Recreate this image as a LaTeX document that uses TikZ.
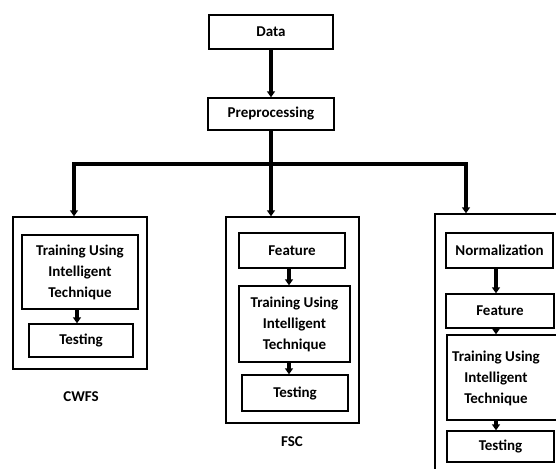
\documentclass[tikz,border=0pt]{standalone}
\usepackage{fontspec}
\setmainfont{Carlito}
\usetikzlibrary{arrows.meta}
\begin{document}
\begin{tikzpicture}[x=1pt,y=-1pt,
  box/.style={draw,line width=1.4pt,inner sep=0pt,align=center,
    font=\fontsize{15}{21}\selectfont\bfseries},
  txt/.style={inner sep=0pt,align=center,font=\fontsize{15}{21}\selectfont\bfseries},
  arr/.style={line width=3.2pt,-{Triangle[width=8pt,length=6pt]}},
  ln/.style={line width=3.2pt}]
\useasboundingbox (0,0) rectangle (556,468);
\clip (0,0) rectangle (556,468);
% top
\node[box,minimum width=124pt,minimum height=34pt] (data) at (271,32) {Data};
\node[box,minimum width=126pt,minimum height=32pt] (pre) at (271,114) {Preprocessing};
\draw[arr] (data.south) -- (pre.north);
% outer boxes
\node[box,minimum width=134pt,minimum height=152pt] (out1) at (80,293) {};
\node[box,minimum width=133pt,minimum height=206pt] (out2) at (292.5,320) {};
\node[box,minimum width=185pt,minimum height=306pt] (out3) at (527.5,367) {};
% branching
\coordinate (j) at (271,164);
\coordinate (L) at (74,164);
\coordinate (R) at (466,164);
\draw[ln] (pre.south) -- (j);
\draw[arr] (j) -- (L) -- (out1.north -| L);
\draw[arr] (j) -- (j |- out2.north);
\draw[arr] (j) -- (R) -- (out3.north -| R);
% CWFS
\node[box,minimum width=116pt,minimum height=74pt] (tr1) at (80,272) {Training Using\\Intelligent\\Technique};
\node[box,minimum width=104pt,minimum height=33pt] (te1) at (81,340.5) {Testing};
\coordinate (x1) at (77,0);
\draw[arr] (tr1.south -| x1) -- (te1.north -| x1);
\node[txt] (lab1) at (81,397) {CWFS};
% FSC
\node[box,minimum width=106pt,minimum height=35pt] (fe2) at (292,250.5) {Feature};
\node[box,minimum width=111pt,minimum height=76pt] (tr2) at (294.5,324) {Training Using\\Intelligent\\Technique};
\node[box,minimum width=106pt,minimum height=36pt] (te2) at (295,393) {Testing};
\coordinate (x2) at (289,0);
\draw[arr] (fe2.south -| x2) -- (tr2.north -| x2);
\draw[arr] (tr2.south -| x2) -- (te2.north -| x2);
\node[txt] (lab2) at (292,442) {FSC};
% third
\node[box,minimum width=107pt,minimum height=35pt] (no3) at (499.5,250.5) {Normalization};
\node[box,minimum width=108pt,minimum height=34pt] (fe3) at (500,311) {Feature};
\node[box,minimum width=120pt,minimum height=85pt] (tr3) at (507,377.5) {};
\node[txt] (tr3t) at (496,378) {Training Using\\Intelligent\\Technique};
\node[box,minimum width=107pt,minimum height=31pt] (te3) at (500.5,446.5) {Testing};
\coordinate (x3) at (496,0);
\draw[arr] (no3.south -| x3) -- (fe3.north -| x3);
\draw[arr] (fe3.south -| x3) -- (tr3.north -| x3);
\draw[arr] (tr3.south -| x3) -- (te3.north -| x3);
\end{tikzpicture}
\end{document}
